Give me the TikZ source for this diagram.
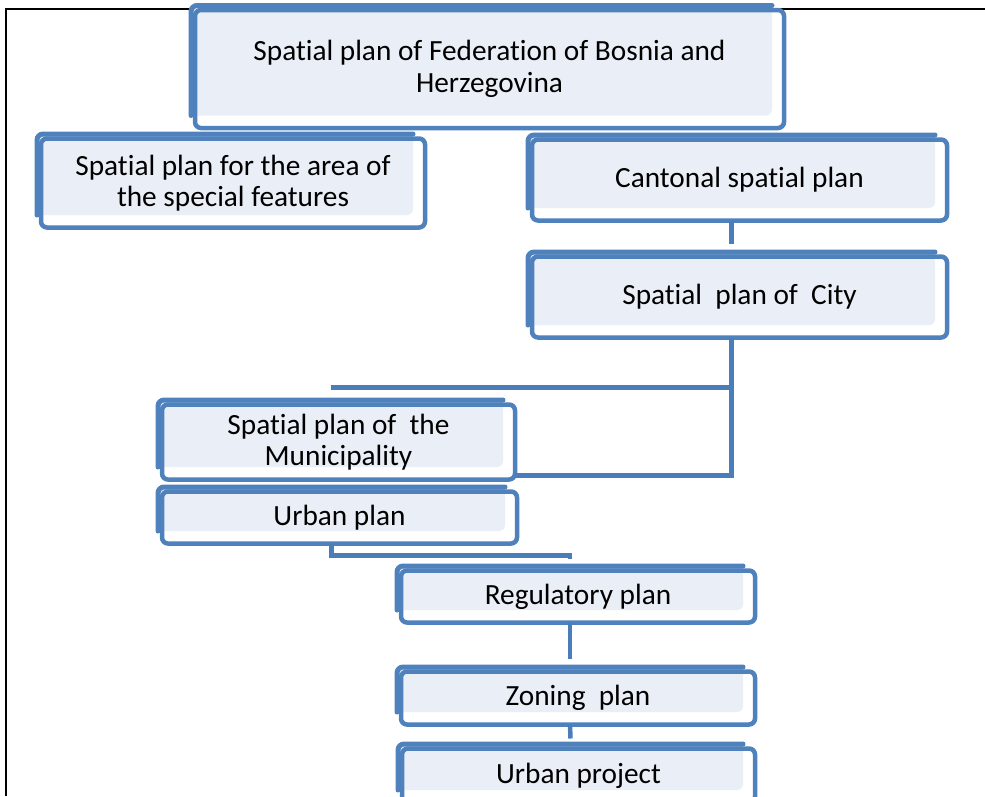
\documentclass[tikz,border=0pt]{standalone}
\usepackage{fontspec}
\setmainfont{Carlito}[Ligatures=NoCommon]
\usetikzlibrary{backgrounds}

\definecolor{boxblue}{HTML}{4F81BD}
\definecolor{boxfill}{HTML}{EAEFF7}
\definecolor{linkblue}{HTML}{4A7EBB}

\tikzset{
	planbox/.style={draw=boxblue, line width=4.5pt, rounded corners=6pt, outer sep=0pt, inner sep=0pt, align=center, font=\fontsize{29.3}{31.5}\selectfont},
	backedge/.style={draw=boxblue, line width=5pt, rounded corners=6pt, line cap=round},
	link/.style={draw=linkblue, line width=4.5pt},
	frameline/.style={draw=black, line width=2pt}
}

\begin{document}
\begin{tikzpicture}[x=1pt,y=-1pt]
	\useasboundingbox (0,0) rectangle (985,796);
	\clip (0,0) rectangle (985,796);
	\node[planbox, minimum width=589pt, minimum height=118pt] (fed) at (489.5,69) {Spatial plan of Federation of Bosnia and\\Herzegovina};
	\node[planbox, minimum width=384pt, minimum height=89pt] (spec) at (233,183) {Spatial plan for the area of\\the special features};
	\node[planbox, minimum width=415pt, minimum height=81pt] (cant) at (739.5,180) {Cantonal spatial plan};
	\node[planbox, minimum width=415pt, minimum height=81pt] (city) at (739.5,297) {Spatial\ \ plan of\ \ City};
	\node[planbox, minimum width=353pt, minimum height=75pt] (muni) at (338.5,442) {Spatial plan of\ \ the\\Municipality};
	\node[planbox, minimum width=355pt, minimum height=52pt] (urban) at (339.5,517.5) {Urban plan};
	\node[planbox, minimum width=354pt, minimum height=52pt] (reg) at (578,596.5) {Regulatory plan};
	\node[planbox, minimum width=354pt, minimum height=53pt] (zon) at (578,698) {Zoning\ \ plan};
	\node[planbox, minimum width=353pt, minimum height=54pt] (proj) at (578.5,775.5) {Urban project};
	\begin{scope}[on background layer]
		\draw[frameline] (6,796) -- (6,9) -- (985,9);
		\foreach \n in {fed,spec,cant,city,muni,urban,reg,zon,proj}
		{
			\fill[white, rounded corners=6pt] (\n.north west) rectangle (\n.south east);
			\fill[boxfill, rounded corners=6pt] ([shift={(-4pt,4.5pt)}]\n.north west) rectangle ([shift={(-12pt,12.5pt)}]\n.south east);
			\draw[backedge] ([shift={(-4pt,12.5pt)}]\n.south west) -- ([shift={(-4pt,4.5pt)}]\n.north west) -- ([shift={(-12pt,4.5pt)}]\n.north east);
		}
	\end{scope}
	\draw[link] ([xshift=-8pt]cant.south) -- ([xshift=-8pt,yshift=13pt]city.north);
	\draw[link] ([xshift=-8pt]city.south) |- ([yshift=4pt]muni.south east);
	\draw[link] ([xshift=-8pt,yshift=17pt]muni.north) -| ([xshift=-8pt]city.south);
	\draw[link] ([xshift=-8pt]urban.south) |- ([xshift=-8pt,yshift=15pt]reg.north) -- ++(0,3);
	\draw[link] ([xshift=-8pt]reg.south) -- ([xshift=-8pt,yshift=13pt]zon.north);
	\draw[link] ([xshift=-8pt]zon.south) -- ([xshift=-8pt,yshift=10pt]proj.north);
\end{tikzpicture}
\end{document}
